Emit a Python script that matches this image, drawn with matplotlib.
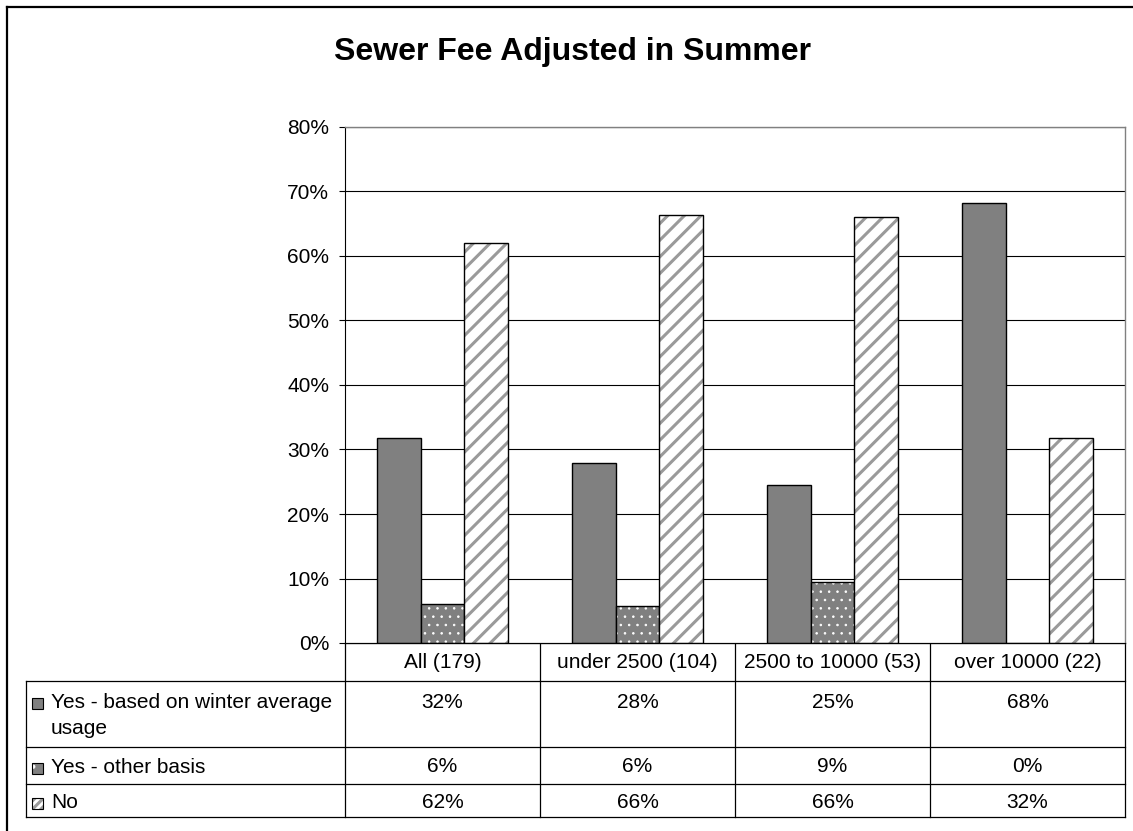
import numpy as np
import matplotlib
matplotlib.use("Agg")
import matplotlib.pyplot as plt
from matplotlib.patches import Rectangle
from matplotlib.ticker import PercentFormatter

plt.rcParams['font.family'] = ['Liberation Sans', 'DejaVu Sans']
plt.rcParams['hatch.linewidth'] = 2.2

# data
categories = ["All (179)", "under 2500 (104)", "2500 to 10000 (53)", "over 10000 (22)"]
series_names = ["Yes - based on winter average\nusage", "Yes - other basis", "No"]
winter = [31.8, 27.9, 24.5, 68.2]
other = [6.1, 5.8, 9.4, 0.0]
no = [62.0, 66.3, 66.0, 31.8]
table_labels = [["32%", "28%", "25%", "68%"],
                ["6%", "6%", "9%", "0%"],
                ["62%", "66%", "66%", "32%"]]

W, H = 1133, 831
fig = plt.figure(figsize=(W / 100, H / 100), dpi=100)


def thin_hatch(bars, lw):
    # dots need a finer hatch line than the stripes
    for b in bars:
        try:
            b.set_hatch_linewidth(lw)
        except AttributeError:
            pass


# plot area in pixels
px_left, px_right, px_top, px_bottom = 345, 1125, 127, 643
ax = fig.add_axes([px_left / W, 1 - px_bottom / H,
                   (px_right - px_left) / W, (px_bottom - px_top) / H])
ax.set_zorder(2)

x = np.arange(len(categories))
w = 0.2256
gray = "#808080"
stripe = "#9a9a9a"

ax.bar(x - w, winter, w, color=gray, edgecolor="black", linewidth=1.0)
dots = ax.bar(x, other, w, color=gray, edgecolor="white", hatch="..", linewidth=0)
thin_hatch(dots, 0.6)
ax.bar(x, other, w, fill=False, edgecolor="black", linewidth=1.0)
ax.bar(x + w, no, w, color="white", edgecolor=stripe, hatch="//", linewidth=0)
ax.bar(x + w, no, w, fill=False, edgecolor="black", linewidth=1.0)

ax.set_xlim(-0.5, len(categories) - 0.5)
ax.set_ylim(0, 80)
ax.set_yticks(np.arange(0, 81, 10))
ax.yaxis.set_major_formatter(PercentFormatter(decimals=0))
ax.set_xticks([])
ax.tick_params(axis="y", labelsize=15, length=4.5, width=0.8, pad=7, direction="out")
ax.yaxis.grid(True, color="black", linewidth=0.8)
ax.set_axisbelow(True)
for s in ["top", "right"]:
    ax.spines[s].set_color(gray)
    ax.spines[s].set_linewidth(1.0)
for s in ["left", "bottom"]:
    ax.spines[s].set_color("black")
    ax.spines[s].set_linewidth(0.8)

# overlay in pixel coords for title, table and border
ov = fig.add_axes([0, 0, 1, 1])
ov.set_xlim(0, W)
ov.set_ylim(H, 0)
ov.axis("off")
ov.set_zorder(1)

ov.text(573, 52, "Sewer Fee Adjusted in Summer", fontsize=23, fontweight="bold",
        ha="center", va="center")

# figure border (left and top only visible)
ov.plot([7, 7], [7, H + 5], color="black", lw=1.6, solid_capstyle="projecting")
ov.plot([7, W + 5], [7, 7], color="black", lw=1.6, solid_capstyle="projecting")

# table
tab_left = 26
col_w = (px_right - px_left) / len(categories)
row_edges = [643, 681, 747, 784, 817]
lc = "black"
tlw = 0.9
ov.plot([px_left, px_right], [row_edges[0]] * 2, color=lc, lw=tlw)
for y in row_edges[1:]:
    ov.plot([tab_left, px_right], [y, y], color=lc, lw=tlw)
ov.plot([tab_left, tab_left], [row_edges[1], row_edges[-1]], color=lc, lw=tlw)
for i in range(len(categories) + 1):
    xe = px_left + i * col_w
    ov.plot([xe, xe], [row_edges[0], row_edges[-1]], color=lc, lw=tlw)

col_centers = [px_left + (i + 0.5) * col_w for i in range(len(categories))]
for cx, cat in zip(col_centers, categories):
    ov.text(cx, 662, cat, fontsize=15, ha="center", va="center")

row_text_y = [702, 767, 802]
for r, (name, vals) in enumerate(zip(series_names, table_labels)):
    ty = row_text_y[r]
    ov.text(51, ty - 9, name, fontsize=15, ha="left", va="top", linespacing=1.45)
    for cx, v in zip(col_centers, vals):
        ov.text(cx, ty, v, fontsize=15, ha="center", va="center")

# legend keys
key_styles = [dict(facecolor=gray, edgecolor="black"),
              dict(facecolor=gray, edgecolor="white", hatch="."),
              dict(facecolor="white", edgecolor=stripe, hatch="////")]
for r, st in enumerate(key_styles):
    ty = row_text_y[r]
    k = ov.add_patch(Rectangle((32, ty - 4), 11, 11, linewidth=0, **st))
    if r == 1:
        thin_hatch([k], 0.6)
    ov.add_patch(Rectangle((32, ty - 4), 11, 11, fill=False, edgecolor="black", linewidth=0.8))

fig.savefig("out.png", dpi=100)
